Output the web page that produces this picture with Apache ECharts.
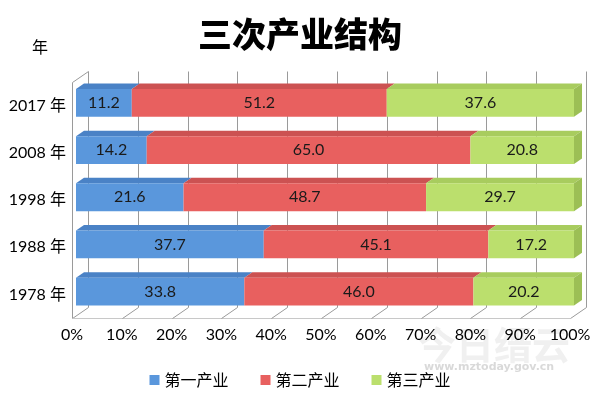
<!DOCTYPE html>
<html>
<head>
<meta charset="utf-8">
<script src="https://cdn.jsdelivr.net/npm/echarts@6/dist/echarts.min.js"></script>
<style>
  html, body { margin: 0; padding: 0; background: #fff; }
  #chart { width: 600px; height: 399px; }
</style>
</head>
<body>
<div id="chart"></div>
<script>
// 年份（从下到上）
const years = ['1978 年', '1988 年', '1998 年', '2008 年', '2017 年'];
const primary = [33.8, 37.7, 21.6, 14.2, 11.2];    // 第一产业
const secondary = [46.0, 45.1, 48.7, 65.0, 51.2];  // 第二产业
const tertiary = [20.2, 17.2, 29.7, 20.8, 37.6];   // 第三产业
const seriesNames = ['第一产业', '第二产业', '第三产业'];
const xTicks = [0, 10, 20, 30, 40, 50, 60, 70, 80, 90, 100];

const frontColors = ['#5a97dc', '#e8605f', '#bbdf6d'];
const topColors = ['#4a82c6', '#cc5252', '#a8cc5e'];
const sideColor = '#9cbf55';
const lineColor = '#9a9a9a';

// 3D depth of the plot box
const DX = 16, DY = -11;

function segData(vals, base) {
    return vals.map((v, i) => [base[i], base[i] + v, i, v]);
}
const zeros = years.map(() => 0);
const base2 = primary.slice();
const base3 = primary.map((v, i) => v + secondary[i]);

function px(v) { return Math.round(v) + 0.5; }

function wallItem(params, api) {
    let cs = params.coordSys;
    let v = api.value(0);
    let x = api.coord([v, 0])[0];
    let top = cs.y, bottom = cs.y + cs.height;
    let st = { stroke: lineColor, lineWidth: 1 };
    let children = [
        { type: 'line', shape: { x1: px(x + DX), y1: px(top + DY), x2: px(x + DX), y2: px(bottom + DY) }, style: st },
        { type: 'line', shape: { x1: px(x), y1: px(bottom), x2: px(x + DX), y2: px(bottom + DY) }, style: st }
    ];
    if (v === 0) {
        children.push({ type: 'line', shape: { x1: px(x), y1: px(top), x2: px(x), y2: px(bottom) }, style: st });
        children.push({ type: 'line', shape: { x1: px(x), y1: px(top), x2: px(x + DX), y2: px(top + DY) }, style: st });
        children.push({ type: 'line', shape: { x1: px(cs.x), y1: px(bottom), x2: px(cs.x + cs.width), y2: px(bottom) }, style: { stroke: '#c8c8c8', lineWidth: 1 } });
    }
    return { type: 'group', children: children };
}

function makeBarRender(idx, withSide) {
    return function (params, api) {
        let start = api.value(0), end = api.value(1), cat = api.value(2), val = api.value(3);
        let p1 = api.coord([start, cat]);
        let p2 = api.coord([end, cat]);
        let h = api.size([0, 1])[1] * 0.59;
        let fx = DX * 0.25, fy = DY * 0.25;
        let bx = DX * 0.5, by = DY * 0.5;
        let x1 = p1[0] + fx, x2 = p2[0] + fx;
        let yc = p1[1] + fy;
        let yt = yc - h / 2, yb = yc + h / 2;
        let children = [
            { type: 'polygon', shape: { points: [[x1, yt], [x2, yt], [x2 + bx, yt + by], [x1 + bx, yt + by]] }, style: { fill: topColors[idx] } },
            { type: 'rect', shape: { x: x1, y: yt, width: x2 - x1, height: h }, style: { fill: frontColors[idx] } }
        ];
        if (withSide) {
            children.push({ type: 'polygon', shape: { points: [[x2, yt], [x2 + bx, yt + by], [x2 + bx, yb + by], [x2, yb]] }, style: { fill: sideColor } });
        }
        children.push({
            type: 'text',
            style: {
                text: val.toFixed(1), x: (x1 + x2) / 2, y: yc,
                align: 'center', verticalAlign: 'middle',
                fontSize: 16, fill: '#1a1a1a', fontFamily: 'Lato, "Noto Sans", sans-serif'
            }
        });
        return { type: 'group', children: children };
    };
}

let chart = echarts.init(document.getElementById('chart'));
let option = {
    animation: false,
    textStyle: { fontFamily: 'Lato, "Noto Sans CJK SC", sans-serif' },
    title: {
        text: '三次产业结构',
        left: 'center',
        top: 12,
        textStyle: { fontSize: 34, fontWeight: 900, color: '#000', fontFamily: '"Noto Sans CJK SC", sans-serif' }
    },
    legend: {
        data: seriesNames,
        bottom: 6,
        left: 'center',
        icon: 'rect',
        itemWidth: 10,
        itemHeight: 10,
        itemGap: 32,
        textStyle: { fontSize: 16, color: '#000', fontFamily: '"Noto Sans CJK SC", sans-serif' }
    },
    grid: { left: 72, right: 30, top: 82, bottom: 81 },
    xAxis: {
        type: 'value',
        min: 0,
        max: 100,
        interval: 10,
        axisLine: { show: false },
        axisTick: { show: false },
        splitLine: { show: false },
        axisLabel: { formatter: '{value}%', fontSize: 16, color: '#000', margin: 9 }
    },
    yAxis: {
        type: 'category',
        data: years,
        name: '年',
        nameLocation: 'end',
        nameGap: 26,
        nameTextStyle: { fontSize: 16, color: '#000', padding: [0, 64, 0, 0] },
        axisLine: { show: false },
        axisTick: { show: false },
        axisLabel: { fontSize: 16, color: '#000', margin: 6 }
    },
    graphic: [
        {
            type: 'text', left: 418, top: 326, silent: true,
            style: { text: '今日缙云', fontSize: 38, fontWeight: 'bold', fill: 'rgba(170,170,170,0.18)', fontFamily: '"Noto Sans CJK SC", sans-serif' }
        },
        {
            type: 'text', left: 424, top: 362, silent: true,
            style: { text: 'www.mztoday.gov.cn', fontSize: 11, fontWeight: 'bold', fill: 'rgba(170,170,170,0.45)', fontFamily: '"DejaVu Sans", sans-serif' }
        }
    ],
    series: [
        {
            type: 'custom',
            name: 'walls',
            z: 1,
            silent: true,
            itemStyle: { color: lineColor },
            renderItem: wallItem,
            encode: { x: 0 },
            data: xTicks.map(v => [v])
        },
        {
            type: 'custom', name: seriesNames[0], z: 2,
            itemStyle: { color: frontColors[0] },
            renderItem: makeBarRender(0, false),
            encode: { x: [0, 1], y: 2 },
            data: segData(primary, zeros)
        },
        {
            type: 'custom', name: seriesNames[1], z: 2,
            itemStyle: { color: frontColors[1] },
            renderItem: makeBarRender(1, false),
            encode: { x: [0, 1], y: 2 },
            data: segData(secondary, base2)
        },
        {
            type: 'custom', name: seriesNames[2], z: 2,
            itemStyle: { color: frontColors[2] },
            renderItem: makeBarRender(2, true),
            encode: { x: [0, 1], y: 2 },
            data: segData(tertiary, base3)
        }
    ]
};
chart.setOption(option);
</script>
</body>
</html>
